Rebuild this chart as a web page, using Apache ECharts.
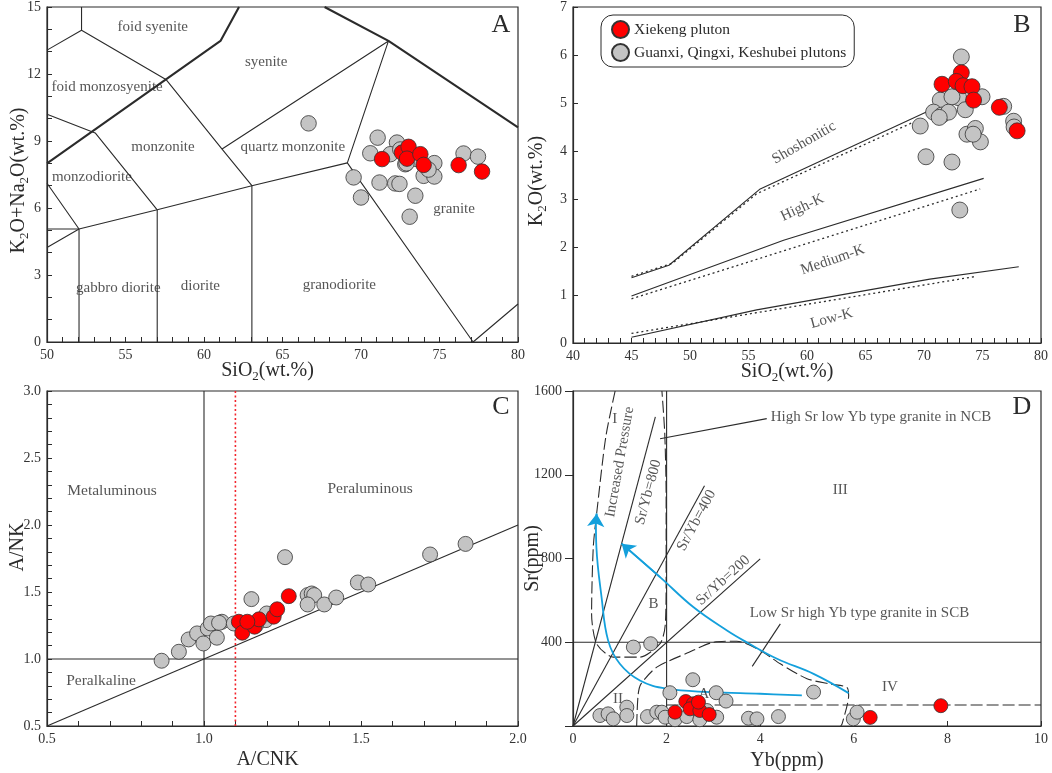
<!DOCTYPE html>
<html><head><meta charset="utf-8">
<script src="https://cdn.jsdelivr.net/npm/echarts/dist/echarts.min.js"></script>
<style>html,body{margin:0;padding:0;background:#fff}#c{width:1052px;height:773px}</style>
</head><body><div id="c"></div>
<script>
// ================= DATA =================
// Panel A: TAS diagram, SiO2 (wt.%) vs K2O+Na2O (wt.%)
const tasXiekeng = [[71.34,8.19],[72.61,8.48],[73.03,8.74],[72.93,8.21],[73.78,8.41],[73.99,7.93],[76.22,7.92],[77.71,7.63]];
const tasOthers = [[66.66,9.79],[71.06,9.15],[70.59,8.45],[72.29,8.93],[71.87,8.41],[72.82,7.96],[73.99,7.44],[74.67,8.01],[74.67,7.41],[69.53,7.37],[70.0,6.47],[71.18,7.14],[72.18,7.10],[72.45,7.08],[73.46,6.55],[73.1,5.61],[76.53,8.44],[77.45,8.30],[73.5,8.2],[74.3,7.72],[72.5,8.62],[72.9,8.0]];
const tasBoundaries = [
  [[52.2,15],[52.2,13.96]],
  [[50,13.07],[52.2,13.96],[57.6,11.74],[61.15,8.64],[63.05,7.0],[63.05,0]],
  [[50,10.2],[53.07,9.36],[57.02,5.92],[57.02,0]],
  [[50,7.11],[52.04,5.06],[52.04,0]],
  [[50,5.06],[52.04,5.06]],
  [[50,4.23],[52.04,5.06],[57.02,5.92],[63.05,7.0],[69.13,8.02],[77.14,0],[80,1.7]],
  [[61.15,8.64],[71.75,13.48],[69.13,8.02]]
];
const tasHeavyBoundaries = [
  [[50,8.0],[61.05,13.48],[62.23,15]],
  [[67.68,15],[71.75,13.48],[80,9.61]]
];
const tasFieldNames = ['foid syenite','syenite','foid monzosyenite','monzonite','quartz monzonite','monzodiorite','granite','gabbro diorite','diorite','granodiorite'];

// Panel B: SiO2 vs K2O
const kXiekeng = [[73.19,5.63],[71.54,5.39],[72.76,5.45],[73.34,5.36],[74.10,5.34],[74.24,5.06],[76.44,4.91],[77.96,4.42]];
const kOthers = [[73.19,5.96],[71.39,5.06],[70.82,4.81],[71.54,4.75],[72.1,4.81],[72.96,5.11],[72.39,5.13],[73.53,4.86],[74.96,5.13],[76.81,4.93],[77.66,4.62],[69.68,4.52],[73.67,4.35],[74.39,4.47],[74.82,4.19],[70.17,3.88],[72.39,3.77],[73.06,2.77],[74.2,4.35],[77.7,4.5],[71.3,4.7]];
const kSolidBoundaries = [
  [[45,1.36],[48.2,1.62],[56,3.21],[70.2,4.81]],
  [[45,0.98],[58,2.14],[75.1,3.43]],
  [[45,0.12],[55.7,0.69],[70.5,1.33],[78.1,1.59]]
];
const kDottedBoundaries = [
  [[45,1.39],[48.5,1.66],[55.7,3.11],[69,4.59]],
  [[45,0.92],[74.8,3.21]],
  [[45,0.20],[74.5,1.39]]
];
const kSeriesNames = ['Shoshonitic','High-K','Medium-K','Low-K'];

// Panel C: A/CNK vs A/NK
const acnkXiekeng = [[1.111,1.278],[1.122,1.196],[1.161,1.241],[1.175,1.296],[1.222,1.316],[1.233,1.371],[1.270,1.469],[1.138,1.278]];
const acnkOthers = [[0.865,0.987],[0.920,1.054],[0.951,1.146],[0.978,1.191],[0.998,1.116],[1.012,1.228],[1.022,1.265],[1.041,1.159],[1.057,1.278],[1.048,1.27],[1.095,1.265],[1.151,1.447],[1.197,1.290],[1.20,1.34],[1.258,1.760],[1.330,1.477],[1.343,1.489],[1.351,1.477],[1.330,1.407],[1.383,1.407],[1.421,1.459],[1.490,1.571],[1.523,1.556],[1.720,1.780],[1.833,1.859],[1.165,1.25]];
const acnkBoundaries = [
  [[1,0.5],[1,3]],
  [[0.5,1],[2,1]],
  [[0.5,0.5],[2,2]]
];
const acnkRefLine = [[1.1,0.5],[1.1,3]];
const acnkFieldNames = ['Metaluminous','Peraluminous','Peralkaline'];

// Panel D: Yb (ppm) vs Sr (ppm)
const srXiekeng = [[2.18,66],[2.41,117],[2.57,106],[2.50,82],[2.71,74],[2.91,55],[2.68,114],[6.35,41],[7.86,97]];
const srOthers = [[1.29,377],[1.66,393],[2.56,221],[2.07,159],[3.06,159],[3.27,119],[5.14,162],[0.575,50],[0.75,58],[0.86,34],[1.15,90],[1.15,50],[1.59,45],[1.79,66],[1.90,66],[1.97,42],[2.18,30],[2.43,45],[2.71,30],[2.86,74],[3.07,42],[3.75,37],[3.93,34],[4.39,45],[5.99,34],[6.07,66]];
const srSolidBoundaries = [
  [[2,0],[2,1600]],
  [[0,400],[10,400]],
  [[0,0],[1.76,1476]],
  [[0,0],[2.81,1147]],
  [[0,0],[4.0,798]]
];
const srDashedBoundaries = [
  [[0.9,1600],[0.7,1380],[0.505,1014],[0.433,854],[0.397,536],[0.505,393],[0.86,329],[1.43,329],[1.86,393],[1.97,480],[1.99,700],[1.99,1100],[1.96,1400],[1.9,1600]],
  [[1.36,0],[1.39,146],[1.45,200],[1.79,281],[2.48,352],[3.0,400],[3.5,405],[4.0,361],[4.43,297],[5.0,226],[5.5,200],[5.85,185],[5.89,146],[5.75,10],[5.72,0]]
];
const srDashedLevel = [[2,100],[10,100]];
const srLeaders = [
  [[4.14,1468],[1.86,1372]],
  [[4.43,488],[3.83,285]]
];
const srTrend1 = [[4.89,146],[4.0,154],[2.93,162],[2.0,178],[1.43,217],[1.0,297],[0.75,409],[0.61,616],[0.5,854],[0.49,966],[0.505,1014]];
const srTrend2 = [[5.89,157],[5.14,249],[4.36,321],[3.71,400],[3.29,456],[2.57,568],[1.86,711],[1.04,871]];
const srFieldNames = ['I','B','II','A','III','IV'];
const srRatioNames = ['Sr/Yb=800','Sr/Yb=400','Sr/Yb=200'];
const srNotes = ['Increased Pressure','High Sr low Yb type granite in NCB','Low Sr high Yb type granite in SCB'];

const legendNames = ['Xiekeng pluton','Guanxi, Qingxi, Keshubei plutons'];

// ================= LAYOUT / STYLE =================
const FONT = 'Liberation Serif';
const INK = '#2b2b2b';
const RED = '#ff0000';
const GREY = '#c4c4c4';
const CYAN = '#14a0dc';

// annotation placement (data coordinates of each panel)
const tasLabelPos = [[56.74,14.08],[63.96,12.54],[53.83,11.43],[57.39,8.75],[65.66,8.75],[52.86,7.37],[75.93,5.94],[54.54,2.41],[59.77,2.5],[68.62,2.54]];
const kLabelPos = [[59.75,4.17,30],[59.6,2.82,25],[62.2,1.73,19],[62.1,0.51,15]];
const acnkLabelPos = [[0.707,2.254],[1.529,2.267],[0.672,0.835]];
const srFieldPos = [[0.89,1468],[1.72,583],[0.96,129],[2.80,153],[5.71,1125],[6.77,185]];
const srRatioPos = [[1.61,1117,75],[2.64,982,62],[3.21,695,42]];
const srNotePos = [[1.0,1261,80],[6.58,1476,0],[6.12,540,0]];

function poly(gi, pts, style, z, smooth) {
  return {type:'line', xAxisIndex:gi, yAxisIndex:gi, data:pts, symbol:'none', showSymbol:false, silent:true,
    smooth: smooth || false,
    lineStyle:Object.assign({color:INK, width:1.1}, style||{}), z:z||2, animation:false};
}
function dots(gi, name, pts, color, size, z) {
  return {type:'scatter', name:name, xAxisIndex:gi, yAxisIndex:gi, data:pts, symbol:'circle', symbolSize:size,
    itemStyle:{color:color, borderColor:'#333', borderWidth:0.8, opacity:1}, z:z, animation:false};
}
function texts(gi, names, pos, size) {
  return {type:'scatter', xAxisIndex:gi, yAxisIndex:gi, symbolSize:1, silent:true, animation:false,
    itemStyle:{color:'rgba(0,0,0,0)'},
    data:names.map((n,i)=>({value:[pos[i][0],pos[i][1]], name:n, label:{rotate:pos[i][2]||0}})),
    label:{show:true, position:'inside', formatter:'{b}', fontFamily:FONT, fontSize:size, color:INK}, z:6};
}
const labelStyle = {fontFamily:FONT, fontSize:14, color:'#333', margin:6};
const tickLine = {color:INK, width:1};
const subRich = {s:{fontSize:13, fontFamily:FONT, color:INK, padding:[12,0,0,0], verticalAlign:'bottom'}};
function nameStyle(pad){ return {fontFamily:FONT, fontSize:20, color:INK, padding:pad, rich:subRich}; }

const grids = [
  {left:47, top:6, width:471, height:336},
  {left:573, top:7, width:468, height:336},
  {left:47, top:391, width:471, height:335},
  {left:573, top:391, width:468, height:335}
].map(g=>Object.assign(g,{show:true, borderColor:INK, borderWidth:1.2, containLabel:false}));

function xA(gi, min, max, interval, minorSplit, name, gap, pad, fmt) {
  return {type:'value', gridIndex:gi, min, max, interval, splitLine:{show:false},
    axisLine:{show:true, lineStyle:{color:INK, width:1.2}},
    axisTick:{show:true, inside:true, length:5, lineStyle:tickLine},
    minorTick:{show:minorSplit>0, splitNumber:minorSplit||5, length:5, lineStyle:tickLine},
    axisLabel:Object.assign({}, labelStyle, fmt?{formatter:fmt}:{}),
    name, nameLocation:'middle', nameGap:gap, nameMoveOverlap:false, nameTextStyle:nameStyle(pad)};
}
function yA(gi, min, max, interval, minorSplit, name, gap, pad, fmt, outside) {
  return {type:'value', gridIndex:gi, min, max, interval, splitLine:{show:false},
    axisLine:{show:true, lineStyle:{color:INK, width:1.2}},
    axisTick:{show:true, inside:!outside, length:outside?8:5, lineStyle:tickLine},
    minorTick:{show:minorSplit>0, splitNumber:minorSplit||5, length:5, lineStyle:tickLine},
    axisLabel:Object.assign({}, labelStyle, {margin: outside?11:6}, fmt?{formatter:fmt}:{}),
    name, nameLocation:'middle', nameRotate:90, nameGap:gap, nameMoveOverlap:false, nameTextStyle:nameStyle(pad)};
}
const f1 = v => v.toFixed(1);

const series = [];
// Panel A
tasBoundaries.forEach(p=>series.push(poly(0,p)));
tasHeavyBoundaries.forEach(p=>series.push(poly(0,p,{width:2.1})));
series.push(texts(0, tasFieldNames, tasLabelPos, 15));
series.push(dots(0, legendNames[1], tasOthers, GREY, 15.5, 10));
series.push(dots(0, legendNames[0], tasXiekeng, RED, 15.5, 11));
// Panel B
kSolidBoundaries.forEach(p=>series.push(poly(1,p)));
kDottedBoundaries.forEach(p=>series.push(poly(1,p,{type:[2,3], width:1.3})));
series.push(texts(1, kSeriesNames, kLabelPos, 15));
series.push(dots(1, legendNames[1], kOthers, GREY, 16, 10));
series.push(dots(1, legendNames[0], kXiekeng, RED, 16, 11));
// Panel C
acnkBoundaries.forEach(p=>series.push(poly(2,p)));
series.push(poly(2, acnkRefLine, {color:'#f2242c', type:[2,2.5], width:1.6}));
series.push(texts(2, acnkFieldNames, acnkLabelPos, 15.5));
series.push(dots(2, legendNames[1], acnkOthers, GREY, 15, 10));
series.push(dots(2, legendNames[0], acnkXiekeng, RED, 15, 11));
// Panel D
srSolidBoundaries.forEach(p=>series.push(poly(3,p)));
srDashedBoundaries.forEach(p=>series.push(poly(3,p,{type:[12,4], width:1.1}, 2, 0.25)));
series.push(poly(3, srDashedLevel, {type:[12,4], width:1.1}));
srLeaders.forEach(p=>series.push(poly(3,p)));
series.push(poly(3, srTrend1, {color:CYAN, width:1.8}, 5, 0.4));
series.push(poly(3, srTrend2, {color:CYAN, width:1.8}, 5, 0.4));
series.push({type:'lines', coordinateSystem:'cartesian2d', xAxisIndex:3, yAxisIndex:3, silent:true, animation:false,
  symbol:['none','arrow'], symbolSize:13, lineStyle:{color:CYAN, width:1.8, opacity:1}, z:5,
  data:[{coords:srTrend1.slice(-2)}, {coords:srTrend2.slice(-2)}]});
series.push(texts(3, srFieldNames, srFieldPos, 15));
series.push(texts(3, srRatioNames, srRatioPos, 15));
series.push(texts(3, srNotes, srNotePos, 15));
series.push(dots(3, legendNames[1], srOthers, GREY, 14, 10));
series.push(dots(3, legendNames[0], srXiekeng, RED, 14, 11));

const option = {
  animation:false,
  backgroundColor:'#fff',
  grid: grids,
  xAxis: [
    xA(0, 50, 80, 5, 5, 'SiO{s|2}(wt.%)', 16, [0,30,0,0]),
    xA(1, 40, 80, 5, 5, 'SiO{s|2}(wt.%)', 16, [0,40,0,0]),
    xA(2, 0.5, 2.0, 0.5, 5, 'A/CNK', 24, [0,30,0,0], f1),
    xA(3, 0, 10, 2, 0, 'Yb(ppm)', 25, [0,40,0,0])
  ],
  yAxis: [
    yA(0, 0, 15, 3, 3, 'K{s|2}O+Na{s|2}O(wt.%)', 16, [0,12,0,0]),
    yA(1, 0, 7, 1, 0, 'K{s|2}O(wt.%)', 24, [0,12,0,0]),
    yA(2, 0.5, 3.0, 0.5, 5, 'A/NK', 19, [0,0,0,23], f1),
    yA(3, 0, 1600, 400, 0, 'Sr(ppm)', 30, [0,0,0,0], v => v===0 ? '' : String(v), true)
  ],
  legend: {
    data: legendNames, orient:'vertical', left:601, top:15, selectedMode:false,
    icon:'circle', itemWidth:17, itemHeight:17, itemGap:4, padding:[5,8,5,10],
    borderColor:INK, borderWidth:1, borderRadius:12, backgroundColor:'#fff',
    textStyle:{fontFamily:FONT, fontSize:15.5, color:INK}
  },
  graphic: [
    {type:'text', x:501, y:25, style:{text:'A', fontFamily:FONT, fontSize:26, fill:INK, align:'center', verticalAlign:'middle'}},
    {type:'text', x:1022, y:25, style:{text:'B', fontFamily:FONT, fontSize:26, fill:INK, align:'center', verticalAlign:'middle'}},
    {type:'text', x:501, y:407, style:{text:'C', fontFamily:FONT, fontSize:26, fill:INK, align:'center', verticalAlign:'middle'}},
    {type:'text', x:1022, y:407, style:{text:'D', fontFamily:FONT, fontSize:26, fill:INK, align:'center', verticalAlign:'middle'}}
  ],
  series: series
};
const chart = echarts.init(document.getElementById('c'), null, {renderer:'canvas'});
chart.setOption(option);
</script></body></html>
